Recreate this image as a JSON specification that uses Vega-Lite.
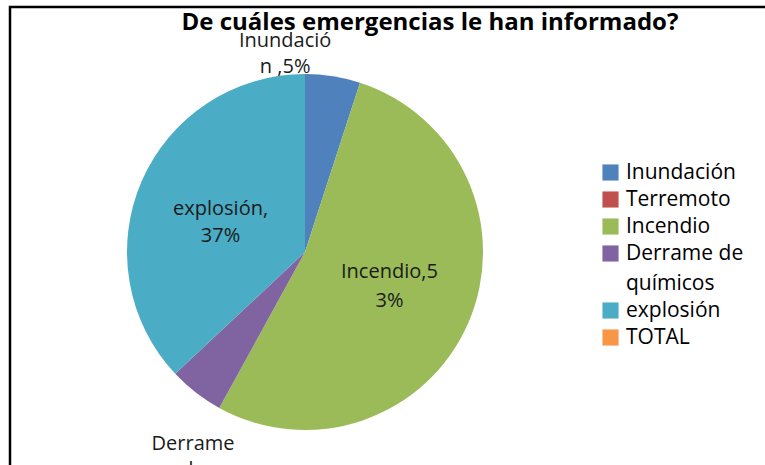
{
  "$schema": "https://vega.github.io/schema/vega-lite/v6.json",
  "width": 758,
  "height": 461,
  "autosize": "none",
  "padding": {"left": 10, "top": 7, "right": -3, "bottom": -3},
  "background": "white",
  "view": {"stroke": "black", "strokeWidth": 2.5},
  "config": {"style": {"guide-label": {"lineHeight": 30}}},
  "title": {
    "text": "De cuáles emergencias le han informado?",
    "font": "Open Sans",
    "fontSize": 24,
    "fontWeight": "bold",
    "color": "black",
    "anchor": "middle",
    "frame": "group",
    "baseline": "alphabetic",
    "offset": -47,
    "dx": 41
  },
  "data": {
    "values": [
      {"n": 1, "cat": "Inundación", "v": 5, "label": ["Inundació", "n ,5%"]},
      {"n": 2, "cat": "Terremoto", "v": 0, "label": ""},
      {"n": 3, "cat": "Incendio", "v": 53, "label": ["Incendio,5", "3%"]},
      {"n": 4, "cat": "Derrame de químicos", "v": 5, "label": ["Derrame", "de"]},
      {"n": 5, "cat": "explosión", "v": 37, "label": ["explosión,", "37%"]},
      {"n": 6, "cat": "TOTAL", "v": 0, "label": ""}
    ]
  },
  "encoding": {
    "theta": {"field": "v", "type": "quantitative", "stack": true},
    "order": {"field": "n", "type": "quantitative"},
    "x": {"value": 295},
    "y": {"value": 245}
  },
  "layer": [
    {
      "mark": {"type": "arc", "outerRadius": 178},
      "encoding": {
        "color": {
          "field": "cat",
          "type": "nominal",
          "scale": {
            "domain": ["Inundación", "Terremoto", "Incendio", "Derrame de químicos", "explosión", "TOTAL"],
            "range": ["#4F81BD", "#C0504D", "#9BBB59", "#8064A2", "#4BACC6", "#F79646"]
          },
          "legend": {
            "orient": "none",
            "legendX": 590,
            "legendY": 155,
            "title": null,
            "symbolType": "square",
            "symbolSize": 260,
            "symbolStrokeWidth": 0,
            "labelFont": "Open Sans",
            "labelFontSize": 21,
            "labelColor": "black",
            "labelOffset": 5,
            "labelLimit": 300,
            "rowPadding": 5,
            "labelExpr": "datum.label == 'Derrame de químicos' ? ['Derrame de', 'químicos'] : datum.label"
          }
        }
      }
    },
    {
      "mark": {"type": "text", "radius": 92, "dy": -17, "font": "Open Sans", "fontSize": 20, "lineHeight": 29, "color": "#1a1a1a", "baseline": "middle", "align": "center"},
      "encoding": {
        "detail": {"field": "cat", "type": "nominal"},
        "text": {"condition": {"test": "datum.cat === 'Incendio'", "field": "label", "type": "nominal"}, "value": ""}
      }
    },
    {
      "mark": {"type": "text", "radius": 92, "dy": -6, "font": "Open Sans", "fontSize": 20, "lineHeight": 27, "color": "#1a1a1a", "baseline": "middle", "align": "center"},
      "encoding": {
        "detail": {"field": "cat", "type": "nominal"},
        "text": {"condition": {"test": "datum.cat === 'explosión'", "field": "label", "type": "nominal"}, "value": ""}
      }
    },
    {
      "mark": {"type": "text", "radius": 199, "dx": -51, "dy": -14, "font": "Open Sans", "fontSize": 20, "lineHeight": 26, "color": "#1a1a1a", "baseline": "middle", "align": "center"},
      "encoding": {
        "detail": {"field": "cat", "type": "nominal"},
        "text": {"condition": {"test": "datum.cat === 'Inundación'", "field": "label", "type": "nominal"}, "value": ""}
      }
    },
    {
      "mark": {"type": "text", "radius": 230, "dx": 29, "dy": 10, "font": "Open Sans", "fontSize": 20, "lineHeight": 26, "color": "#1a1a1a", "baseline": "middle", "align": "center"},
      "encoding": {
        "detail": {"field": "cat", "type": "nominal"},
        "text": {"condition": {"test": "datum.cat === 'Derrame de químicos'", "field": "label", "type": "nominal"}, "value": ""}
      }
    }
  ]
}
